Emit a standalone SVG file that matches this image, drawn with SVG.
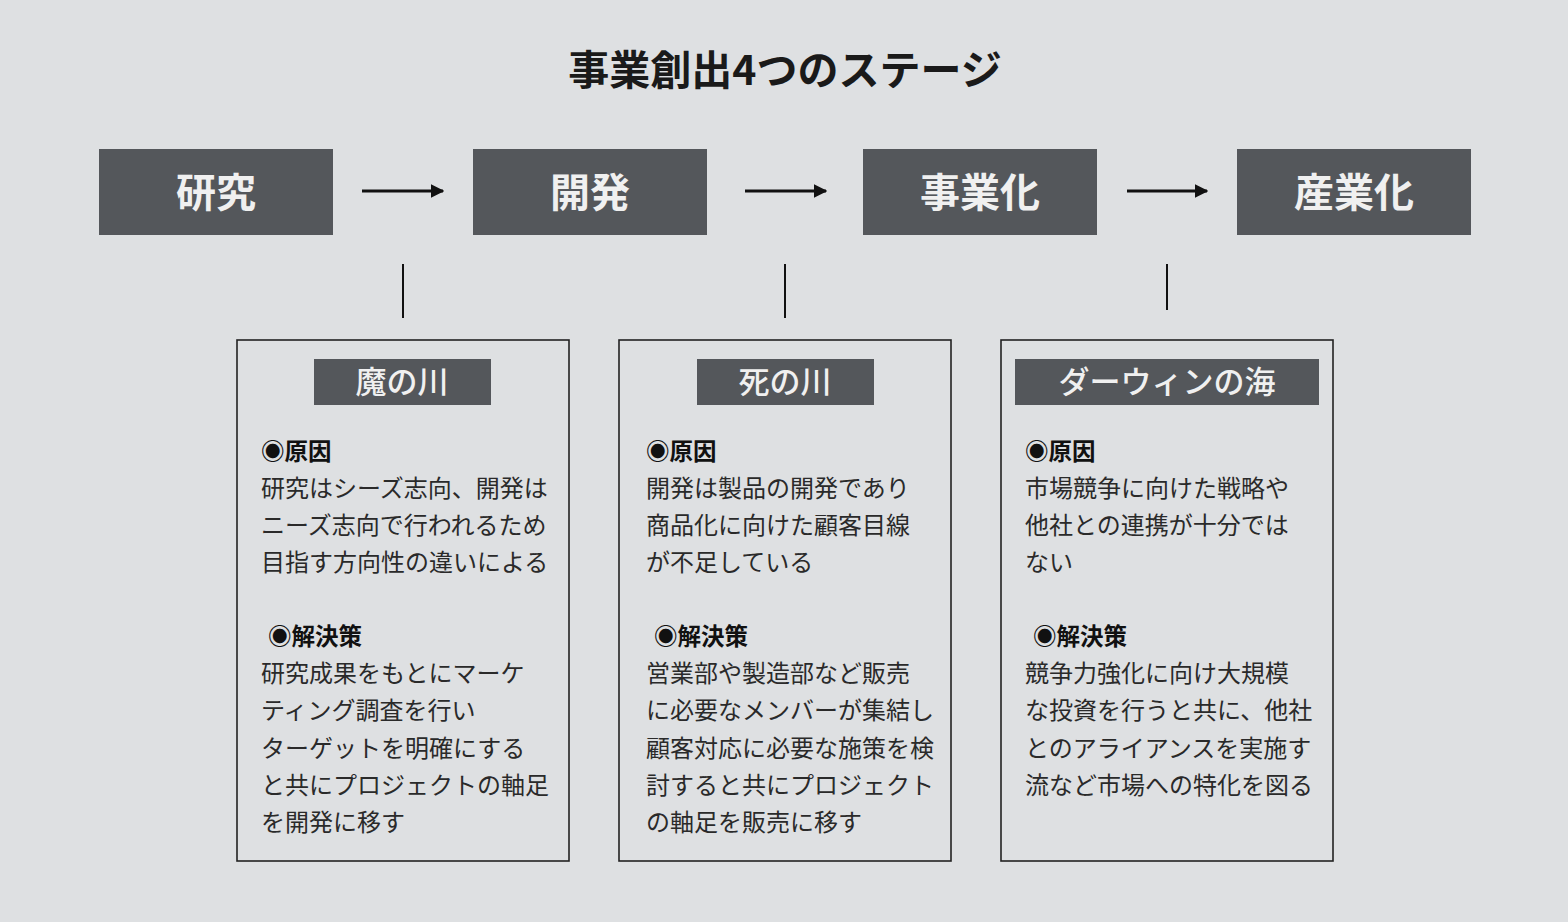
<svg xmlns="http://www.w3.org/2000/svg" width="1568" height="922" viewBox="0 0 1568 922">
<defs>
<style>
text{font-family:"Noto Sans CJK JP","Noto Sans",sans-serif;}
.title{font-size:41px;font-weight:bold;fill:#1a1a1a;text-anchor:middle;}
.stage rect{fill:#54575b;}
.stage text{font-size:40px;font-weight:bold;fill:#f0f0f0;text-anchor:middle;}
.frame{fill:none;stroke:#222;stroke-width:1.6;}
.hdr{fill:#54575b;}
.hdrt{font-size:31px;fill:#f0f0f0;text-anchor:middle;font-weight:500;}
.h{font-size:23.5px;font-weight:bold;fill:#111;}
.b{font-size:24px;fill:#2a2a2a;}
.conn line{stroke:#111;}
.arr{stroke-width:3;}
.vl{stroke-width:2;stroke:#222;}
</style>
<marker id="ah" viewBox="0 0 10 10" refX="9" refY="5" markerWidth="4.5" markerHeight="4.5" markerUnits="strokeWidth" orient="auto">
<path d="M0,0 L10,5 L0,10 z" fill="#111"/>
</marker>
</defs>
<rect width="1568" height="922" fill="#dee0e2"/>
<text class="title" x="785" y="85">事業創出4つのステージ</text>

<g id="stage-kenkyu" class="stage"><rect x="99" y="149" width="234" height="86"/><text x="216" y="207">研究</text></g>
<g id="stage-kaihatsu" class="stage"><rect x="473" y="149" width="234" height="86"/><text x="590" y="207">開発</text></g>
<g id="stage-jigyouka" class="stage"><rect x="863" y="149" width="234" height="86"/><text x="980" y="207">事業化</text></g>
<g id="stage-sangyouka" class="stage"><rect x="1237" y="149" width="234" height="86"/><text x="1354" y="207">産業化</text></g>

<g id="connectors" class="conn">
<line class="arr" x1="362" y1="191" x2="443" y2="191" marker-end="url(#ah)"/>
<line class="arr" x1="745" y1="191" x2="826" y2="191" marker-end="url(#ah)"/>
<line class="arr" x1="1127" y1="191" x2="1207" y2="191" marker-end="url(#ah)"/>
<line class="vl" x1="403" y1="264" x2="403" y2="318"/>
<line class="vl" x1="785" y1="264" x2="785" y2="318"/>
<line class="vl" x1="1167" y1="264" x2="1167" y2="310"/>
</g>

<g id="panel-manokawa">
<rect class="frame" x="237" y="340" width="332" height="521"/>
<rect class="hdr" x="314" y="359" width="177" height="46"/>
<text class="hdrt" x="402" y="393">魔の川</text>
<text class="h" x="261" y="460">◉原因</text>
<text class="b" x="261" y="497">研究はシーズ志向、開発は</text>
<text class="b" x="261" y="534">ニーズ志向で行われるため</text>
<text class="b" x="261" y="571">目指す方向性の違いによる</text>
<text class="h" x="268" y="645">◉解決策</text>
<text class="b" x="261" y="682">研究成果をもとにマーケ</text>
<text class="b" x="261" y="719">ティング調査を行い</text>
<text class="b" x="261" y="757">ターゲットを明確にする</text>
<text class="b" x="261" y="794">と共にプロジェクトの軸足</text>
<text class="b" x="261" y="831">を開発に移す</text>
</g>

<g id="panel-shinokawa">
<rect class="frame" x="619" y="340" width="332" height="521"/>
<rect class="hdr" x="697" y="359" width="177" height="46"/>
<text class="hdrt" x="785" y="393">死の川</text>
<text class="h" x="646" y="460">◉原因</text>
<text class="b" x="646" y="497">開発は製品の開発であり</text>
<text class="b" x="646" y="534">商品化に向けた顧客目線</text>
<text class="b" x="646" y="571">が不足している</text>
<text class="h" x="654" y="645">◉解決策</text>
<text class="b" x="646" y="682">営業部や製造部など販売</text>
<text class="b" x="646" y="719">に必要なメンバーが集結し</text>
<text class="b" x="646" y="757">顧客対応に必要な施策を検</text>
<text class="b" x="646" y="794">討すると共にプロジェクト</text>
<text class="b" x="646" y="831">の軸足を販売に移す</text>
</g>

<g id="panel-darwin">
<rect class="frame" x="1001" y="340" width="332" height="521"/>
<rect class="hdr" x="1015" y="359" width="304" height="46"/>
<text class="hdrt" x="1167" y="393">ダーウィンの海</text>
<text class="h" x="1025" y="460">◉原因</text>
<text class="b" x="1025" y="497">市場競争に向けた戦略や</text>
<text class="b" x="1025" y="534">他社との連携が十分では</text>
<text class="b" x="1025" y="571">ない</text>
<text class="h" x="1033" y="645">◉解決策</text>
<text class="b" x="1025" y="682">競争力強化に向け大規模</text>
<text class="b" x="1025" y="719">な投資を行うと共に、他社</text>
<text class="b" x="1025" y="757">とのアライアンスを実施す</text>
<text class="b" x="1025" y="794">流など市場への特化を図る</text>
</g>
</svg>
